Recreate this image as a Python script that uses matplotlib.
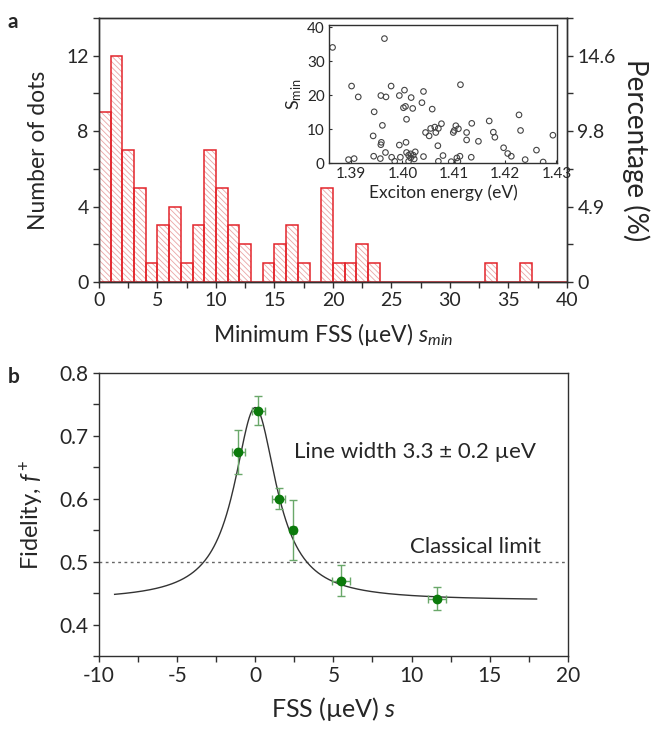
import numpy as np
import matplotlib
matplotlib.use('Agg')
import matplotlib.pyplot as plt
from matplotlib.ticker import MultipleLocator, FixedLocator

# ---------------- data ----------------
# panel a: histogram of minimum FSS (bins of width 1 ueV)
bin_left = list(range(0, 40))
counts = [9, 12, 7, 5, 1, 3, 4, 1, 3, 7,
          5, 3, 2, 0, 1, 2, 3, 1, 0, 5,
          1, 1, 2, 1, 0, 0, 0, 0, 0, 0,
          0, 0, 0, 1, 0, 0, 1, 0, 0, 0]
count_ticks = [0, 4, 8, 12]
pct_labels = ['0', '4.9', '9.8', '14.6']
hist_xticks = [0, 5, 10, 15, 20, 25, 30, 35, 40]

# inset: s_min vs exciton energy
energy = [1.3864, 1.3965, 1.3901, 1.3914, 1.3895, 1.3906, 1.3945, 1.3943, 1.3944,
          1.3958, 1.3968, 1.3961, 1.3959, 1.3958, 1.3957, 1.3967, 1.3978, 1.3979,
          1.3985, 1.3994, 1.3994, 1.3996, 1.4004, 1.4002, 1.4006, 1.4008, 1.4007,
          1.4008, 1.4012, 1.4016, 1.4016, 1.4012, 1.4017, 1.4020, 1.4023, 1.4025,
          1.4021, 1.4038, 1.4041, 1.4041, 1.4045, 1.4052, 1.4058, 1.4055, 1.4063,
          1.4065, 1.4070, 1.4076, 1.4069, 1.4070, 1.4079, 1.4095, 1.4099, 1.4101,
          1.4104, 1.4109, 1.4106, 1.4108, 1.4113, 1.4112, 1.4125, 1.4125, 1.4135,
          1.4134, 1.4148, 1.4169, 1.4177, 1.4180, 1.4197, 1.4205, 1.4212, 1.4227,
          1.4230, 1.4239, 1.4261, 1.4274, 1.4293]
smin = [34.1, 36.7, 22.7, 19.5, 1.0, 1.3, 15.1, 8.0, 2.0,
        19.9, 19.5, 11.1, 6.1, 5.4, 1.3, 3.1, 22.7, 1.7,
        0.5, 19.9, 5.3, 1.7, 21.5, 16.3, 16.7, 12.9, 6.1,
        3.1, 2.3, 2.7, 1.5, 0.5, 19.3, 16.1, 1.2, 3.3,
        2.3, 17.8, 21.1, 1.9, 9.0, 8.0, 15.9, 10.2, 10.6,
        9.0, 10.2, 11.6, 5.1, 0.5, 2.2, 0.4, 9.0, 9.6,
        11.0, 10.1, 1.5, 0.5, 23.1, 2.0, 9.0, 6.8, 11.7,
        1.7, 6.4, 12.4, 9.1, 7.6, 4.5, 2.8, 2.0, 14.2,
        9.6, 1.0, 3.8, 0.3, 8.2]
inset_xticks = [1.39, 1.40, 1.41, 1.42, 1.43]
inset_xlabels = ['1.39', '1.40', '1.41', '1.42', '1.43']
inset_yticks = [0, 10, 20, 30, 40]

# panel b: fidelity vs FSS
fss = [-1.09, 0.19, 1.50, 2.39, 5.48, 11.65]
fss_err = [0.43, 0.43, 0.43, 0.20, 0.60, 0.58]
fidelity = [0.675, 0.740, 0.600, 0.550, 0.470, 0.441]
fid_err = [0.035, 0.023, 0.017, 0.048, 0.024, 0.018]
b_xticks = [-10, -5, 0, 5, 10, 15, 20]
b_yticks = [0.4, 0.5, 0.6, 0.7, 0.8]
# Lorentzian fit parameters
fit_base = 0.438
fit_amp = 0.307
fit_center = 0.0
fit_fwhm = 3.3
fit_range = (-9.0, 18.0)
classical_limit = 0.5

# ---------------- style ----------------
plt.rcParams['font.family'] = ['Lato', 'DejaVu Sans']
plt.rcParams['mathtext.fontset'] = 'custom'
plt.rcParams['mathtext.rm'] = 'Lato'
plt.rcParams['mathtext.it'] = 'Lato:italic'
plt.rcParams['hatch.linewidth'] = 0.6
TXT = '#262626'
AX = '#303030'
plt.rcParams['text.color'] = TXT
plt.rcParams['axes.labelcolor'] = TXT
plt.rcParams['xtick.color'] = AX
plt.rcParams['ytick.color'] = AX
plt.rcParams['xtick.labelcolor'] = TXT
plt.rcParams['ytick.labelcolor'] = TXT
plt.rcParams['axes.edgecolor'] = AX
plt.rcParams['axes.linewidth'] = 1.0

fig = plt.figure(figsize=(6.53, 7.30), dpi=100)

def style_ticks(ax):
    ax.tick_params(which='both', direction='out', length=4, width=1.0)

# ---------------- panel a ----------------
axa = fig.add_axes([0.1516, 0.6137, 0.7167, 0.3616])
axa.bar(bin_left, counts, width=1, align='edge', color='white',
        edgecolor='#eaa4a4', hatch='\\' * 6, linewidth=0)
axa.bar(bin_left, counts, width=1, align='edge', fill=False,
        edgecolor='#e3242b', linewidth=1.1)
axa.set_xlim(0, 40)
axa.set_ylim(0, 14)
axa.xaxis.set_major_locator(FixedLocator(hist_xticks))
axa.xaxis.set_minor_locator(MultipleLocator(2.5))
axa.yaxis.set_major_locator(FixedLocator(count_ticks))
axa.yaxis.set_minor_locator(MultipleLocator(2))
style_ticks(axa)
axa.tick_params(labelsize=14)
axa.set_ylabel('Number of dots', fontsize=16.5, labelpad=12)
axa.set_xlabel('Minimum FSS (\u00b5eV) $s_{min}$', fontsize=16.5, labelpad=8)

axr = axa.twinx()
axr.set_ylim(0, 14)
axr.yaxis.set_major_locator(FixedLocator(count_ticks))
axr.yaxis.set_minor_locator(MultipleLocator(2))
axr.set_yticklabels(pct_labels)
style_ticks(axr)
axr.tick_params(labelsize=14)
axr.set_ylabel('Percentage (%)', fontsize=20, rotation=270, labelpad=24)

fig.text(0.012, 0.983, 'a', fontsize=15, fontweight='bold', va='top', ha='left')

# inset
axi = fig.add_axes([0.5038, 0.7767, 0.3492, 0.1890])
axi.scatter(energy, smin, s=16, facecolors='none', edgecolors='#444444', linewidths=0.8)
axi.set_xlim(1.3857, 1.4301)
axi.set_ylim(0, 40.7)
axi.set_xticks(inset_xticks)
axi.set_xticklabels(inset_xlabels)
axi.set_yticks(inset_yticks)
axi.tick_params(direction='in', length=2, labelsize=11, pad=3)
axi.set_xlabel('Exciton energy (eV)', fontsize=12.5, labelpad=2)
axi.set_ylabel('S$_{\\mathrm{min}}$', fontsize=13, labelpad=2)

# ---------------- panel b ----------------
axb = fig.add_axes([0.1516, 0.1014, 0.7180, 0.3877])
xf = np.linspace(fit_range[0], fit_range[1], 600)
gam = fit_fwhm / 2.0
yf = fit_base + fit_amp / (1 + ((xf - fit_center) / gam) ** 2)
axb.plot(xf, yf, color='#333333', lw=1.0, zorder=2)
axb.axhline(classical_limit, color='#666666', lw=1.0, ls=(0, (2, 2.5)), zorder=1)
axb.errorbar(fss, fidelity, xerr=fss_err, yerr=fid_err, fmt='o', color='#0b7a0b',
             ms=6, ecolor='#6aa86a', elinewidth=1.0, capsize=3, capthick=1.0, zorder=3)
axb.set_xlim(-10, 20)
axb.set_ylim(0.35, 0.8)
axb.xaxis.set_major_locator(FixedLocator(b_xticks))
axb.xaxis.set_minor_locator(MultipleLocator(2.5))
axb.yaxis.set_major_locator(FixedLocator(b_yticks))
axb.yaxis.set_minor_locator(MultipleLocator(0.05))
style_ticks(axb)
axb.tick_params(labelsize=15)
axb.set_xticklabels([str(v) for v in b_xticks])
axb.set_yticklabels(['%.1f' % v for v in b_yticks])
axb.set_xlabel('FSS (\u00b5eV) $s$', fontsize=18, labelpad=6)
axb.set_ylabel('Fidelity, $f^+$', fontsize=17, labelpad=10)
axb.text(2.5, 0.675, 'Line width 3.3 \u00b1 0.2 \u00b5eV', fontsize=16, va='center', ha='left')
axb.text(9.9, 0.524, 'Classical limit', fontsize=16, va='center', ha='left')

fig.text(0.012, 0.497, 'b', fontsize=15, fontweight='bold', va='top', ha='left')

fig.savefig('out.png', dpi=100)
